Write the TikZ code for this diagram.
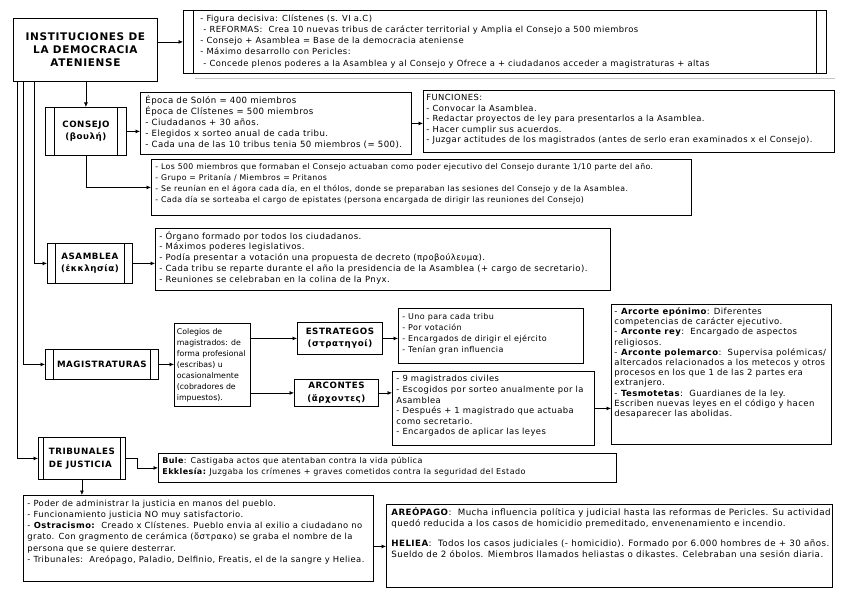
\documentclass[tikz,border=0pt]{standalone}
\usepackage{fontspec}
\setmainfont{DejaVu Sans}[LetterSpace=5]
\newfontfamily\lblfont{DejaVu Sans}[LetterSpace=6]
\newfontfamily\plainfont{DejaVu Sans}
\usetikzlibrary{arrows.meta}
\newcommand\fs[2]{\fontsize{#1}{#2}\selectfont}
\tikzset{
  tb/.style={draw, line width=0.8pt, anchor=north west, inner sep=0pt},
  lbl/.style={draw, line width=0.8pt, anchor=north west, inner sep=0pt, align=center,
     font=\lblfont\bfseries\fs{8.7}{12.5}},
  arr/.style={-{Latex[length=4.5pt,width=4pt]}, line width=0.7pt},
  bar/.style={line width=0.8pt}
}
% [pad]{name}{x}{y}{w}{h}{font}{lines}
\newcommand\bx[8][4]{\node[tb, minimum width=#5pt, minimum height=#6pt] (#2) at (#3,#4)
  {\parbox[c][\dimexpr#6pt-6pt\relax][t]{\dimexpr#5pt-#1pt*2\relax}{#7\begin{tabular}[t]{@{}l@{}}#8\end{tabular}}};}
\begin{document}
\begin{tikzpicture}[x=1pt,y=-1pt]
\useasboundingbox (0,0) rectangle (848,599);
% title
\node[lbl, minimum width=144pt, minimum height=63pt, font=\lblfont\bfseries\fs{10.5}{13}]
  (title) at (13,18) {INSTITUCIONES DE\\LA DEMOCRACIA\\ATENIENSE};
% top box
\bx[17]{top}{183}{10}{643}{63}{\fs{8.4}{11.2}}{- Figura decisiva: Clístenes (s. VI a.C)\\
  \hspace*{3pt}- REFORMAS:\ \ Crea 10 nuevas tribus de carácter territorial y Amplia el Consejo a 500 miembros\\
  - Consejo + Asamblea = Base de la democracia ateniense\\
  - Máximo desarrollo con Pericles:\\
  \hspace*{3pt}- Concede plenos poderes a la Asamblea y al Consejo y Ofrece a + ciudadanos acceder a magistraturas + altas}
\draw[gray!45, line width=0.8pt] (195,78) -- (835,78);
% consejo
\node[lbl, minimum width=81pt, minimum height=48pt] (consejo) at (45,107) {CONSEJO\\(βουλή)};
\bx[5]{epoca}{140}{92}{271}{62}{\fs{8.6}{11}}{Época de Solón = 400 miembros\\Época de Clístenes = 500 miembros\\- Ciudadanos + 30 años.\\- Elegidos x sorteo anual de cada tribu.\\- Cada una de las 10 tribus tenia 50 miembros (= 500).}
\bx[3]{func}{423}{90}{411}{62}{\fs{8.4}{10.5}}{FUNCIONES:\\- Convocar la Asamblea.\\- Redactar proyectos de ley para presentarlos a la Asamblea.\\- Hacer cumplir sus acuerdos.\\- Juzgar actitudes de los magistrados (antes de serlo eran examinados x el Consejo).}
\bx[4]{los}{151}{159}{540}{56}{\fs{7.8}{10.8}}{- Los 500 miembros que formaban el Consejo actuaban como poder ejecutivo del Consejo durante 1/10 parte del año.\\- Grupo = Pritanía / Miembros = Pritanos\\- Se reunían en el ágora cada día, en el thólos, donde se preparaban las sesiones del Consejo y de la Asamblea.\\- Cada día se sorteaba el cargo de epistates (persona encargada de dirigir las reuniones del Consejo)}
% asamblea
\node[lbl, minimum width=85pt, minimum height=40pt] (asam) at (47,243) {ASAMBLEA\\(ἐκκλησία)};
\bx[4]{org}{155}{228}{455}{62}{\fs{8.5}{10.7}}{- Órgano formado por todos los ciudadanos.\\- Máximos poderes legislativos.\\- Podía presentar a votación una propuesta de decreto (προβούλευμα).\\- Cada tribu se reparte durante el año la presidencia de la Asamblea (+ cargo de secretario).\\- Reuniones se celebraban en la colina de la Pnyx.}
% magistraturas
\node[lbl, minimum width=113pt, minimum height=30pt] (magi) at (45,349) {MAGISTRATURAS};
\bx[2.5]{coleg}{174}{323}{76}{83}{\plainfont\fs{7.8}{11}}{Colegios de\\magistrados: de\\forma profesional\\(escribas) u\\ocasionalmente\\(cobradores de\\impuestos).}
\node[lbl, minimum width=85pt, minimum height=32pt] (estr) at (297,322) {ESTRATEGOS\\(στρατηγοί)};
\node[lbl, minimum width=84pt, minimum height=27pt] (arcon) at (294,379) {ARCONTES\\(ἄρχοντες)};
\bx[4]{uno}{398}{308}{185}{55}{\fs{8}{11.1}}{- Uno para cada tribu\\- Por votación\\- Encargados de dirigir el ejército\\- Tenían gran influencia}
\bx[4]{nueve}{392}{371}{202}{74}{\fs{8.4}{10.6}}{- 9 magistrados civiles\\- Escogidos por sorteo anualmente por la\\Asamblea\\- Después + 1 magistrado que actuaba\\como secretario.\\- Encargados de aplicar las leyes}
\bx[3]{arcb}{611}{304}{220}{140}{\fs{8.5}{10.2}}{- \textbf{Arcorte epónimo}: Diferentes\\competencias de carácter ejecutivo.\\- \textbf{Arconte rey}:\ \ Encargado de aspectos\\religiosos.\\- \textbf{Arconte polemarco}:\ \ Supervisa polémicas/\\altercados relacionados a los metecos y otros\\procesos en los que 1 de las 2 partes era\\extranjero.\\- \textbf{Tesmotetas}:\ \ Guardianes de la ley.\\Escriben nuevas leyes en el código y hacen\\desaparecer las abolidas.}
% tribunales
\node[lbl, minimum width=87pt, minimum height=42pt, align=left] (trib) at (38,437) {TRIBUNALES\\DE JUSTICIA};
\bx[4]{bule}{158}{453}{458}{29}{\fs{8}{10.8}}{\textbf{Bule}: Castigaba actos que atentaban contra la vida pública\\\textbf{Ekklesía:}\ Juzgaba los crímenes + graves cometidos contra la seguridad del Estado}
\bx[4]{poder}{23}{495}{350}{86}{\fs{8.4}{11.2}}{- Poder de administrar la justicia en manos del pueblo.\\- Funcionamiento justicia NO muy satisfactorio.\\- \textbf{Ostracismo:}\ \ Creado x Clístenes. Pueblo envia al exilio a ciudadano no\\grato. Con gragmento de cerámica (ὄστρακο) se graba el nombre de la\\persona que se quiere desterrar.\\- Tribunales:\ \ Areópago, Paladio, Delfinio, Freatis, el de la sangre y Heliea.}
\bx[5]{areo}{386}{504}{446}{83}{\fs{8.7}{11.5}}{\textbf{AREÓPAGO}:\ \ Mucha influencia política y judicial hasta las reformas de Pericles. Su actividad\\quedó reducida a los casos de homicidio premeditado, envenenamiento e incendio.\\[8pt]\textbf{HELIEA}:\ \ Todos los casos judiciales (- homicidio). Formado por 6.000 hombres de + 30 años.\\Sueldo de 2 óbolos. Miembros llamados heliastas o dikastes. Celebraban una sesión diaria.}
% inner bars
\foreach \n/\d in {top/10,consejo/9,asam/8,magi/8,trib/5}{
  \draw[bar] ([xshift=\d pt]\n.north west) -- ([xshift=\d pt]\n.south west);
  \draw[bar] ([xshift=-\d pt]\n.north east) -- ([xshift=-\d pt]\n.south east);
}
% connectors
\draw[arr] (title.east |- top.west) -- (top.west);
\draw[arr] (consejo.north |- title.south) -- (consejo.north);
\draw[arr] ([xshift=21pt]title.south west) |- (asam.west);
\draw[arr] ([xshift=10pt]title.south west) |- (magi.west);
\draw[arr] ([xshift=4pt]title.south west) |- (trib.west);
\draw[arr] (consejo.east) -- (consejo.east -| epoca.west);
\draw[arr] (epoca.east) -- (epoca.east -| func.west);
\draw[arr] (consejo.south) |- (los.west);
\draw[arr] (asam.east) -- (asam.east -| org.west);
\draw[arr] (magi.east) -- (magi.east -| coleg.west);
\draw[arr] (estr.west -| coleg.east) -- (estr.west);
\draw[arr] (arcon.west -| coleg.east) -- (arcon.west);
\draw[arr] (estr.east) -- (estr.east -| uno.west);
\draw[arr] (arcon.east) -- (arcon.east -| nueve.west);
\draw[arr] (nueve.east) -- (nueve.east -| arcb.west);
\draw[arr] (trib.east) -- ++(12,0) |- (bule.west);
\draw[arr] (trib.south) -- (trib.south |- poder.north);
\draw[arr] ([yshift=-8pt]poder.east) -- ([yshift=-8pt]poder.east -| areo.west);
\end{tikzpicture}
\end{document}
